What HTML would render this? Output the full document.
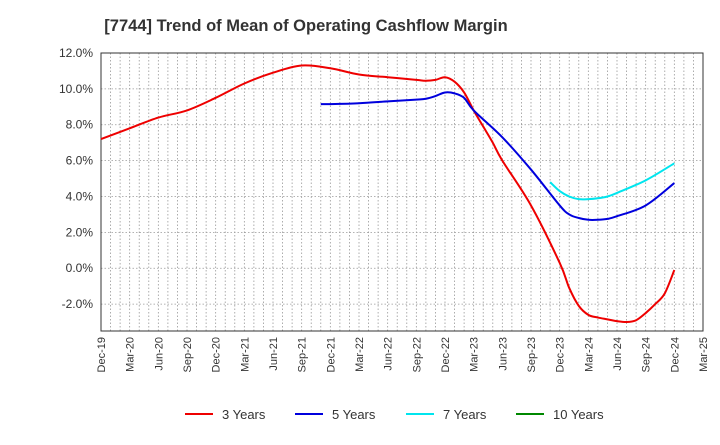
<!DOCTYPE html>
<html><head><meta charset="utf-8"><style>
body{margin:0;background:#fff;font-family:"Liberation Sans",sans-serif}
svg text{font-family:"Liberation Sans",sans-serif}
</style></head><body>
<svg id="c" width="720" height="440" xmlns="http://www.w3.org/2000/svg">
<text x="306" y="31" text-anchor="middle" font-size="16.5" font-weight="bold" fill="#333">[7744]  Trend of Mean of Operating Cashflow Margin</text>
<g id="grid"></g><g id="axes"></g><g id="series"></g><g id="legend"></g>
</svg>
<script>
const xLabels=["Dec-19","Mar-20","Jun-20","Sep-20","Dec-20","Mar-21","Jun-21","Sep-21","Dec-21","Mar-22","Jun-22","Sep-22","Dec-22","Mar-23","Jun-23","Sep-23","Dec-23","Mar-24","Jun-24","Sep-24","Dec-24","Mar-25"];
const yTicks=[-2,0,2,4,6,8,10,12];
const yTickLabels=["-2.0%","0.0%","2.0%","4.0%","6.0%","8.0%","10.0%","12.0%"];
const months3=[0,3,6,9,12,15,18,21,24,27,30,33,34,35,36,37,38,39,40,41,42,45,48,49,50,51,52,53,54,55,56,57,58,59,60];
const vals3=[7.2,7.8,8.4,8.8,9.5,10.3,10.9,11.3,11.15,10.8,10.65,10.5,10.45,10.5,10.65,10.4,9.8,8.8,7.9,7.0,6.0,3.5,0.3,-1.1,-2.1,-2.6,-2.75,-2.85,-2.95,-3.0,-2.9,-2.5,-2.0,-1.4,-0.1];
const months5=[23,24,27,30,33,34,35,36,37,38,39,42,45,48,49,50,51,52,53,54,57,60];
const vals5=[9.15,9.15,9.2,9.3,9.4,9.45,9.6,9.8,9.75,9.5,8.8,7.3,5.5,3.5,3.0,2.8,2.7,2.7,2.75,2.9,3.5,4.75];
const months7=[47,48,49,50,51,52,53,54,57,60];
const vals7=[4.8,4.3,4.0,3.85,3.85,3.9,4.0,4.2,4.9,5.85];
const months10=[];const vals10=[];
const L=101,R=703,T=53,B=331,NS="http://www.w3.org/2000/svg";
const x=m=>L+(R-L)*m/63;
const y=v=>T+(12-v)*(B-T)/15.5;
function el(t,a,p){const e=document.createElementNS(NS,t);for(const k in a)e.setAttribute(k,a[k]);document.getElementById(p).appendChild(e);return e;}
for(let m=0;m<=63;m++){const g=el('line',{x1:x(m),x2:x(m),y1:T,y2:B,stroke:'#999','stroke-dasharray':'1.5,2','stroke-width':0.8},'grid');

}
yTicks.forEach((v,i)=>{const g=el('line',{x1:L,x2:R,y1:y(v),y2:y(v),stroke:'#999','stroke-dasharray':'1.5,2','stroke-width':0.8},'grid');


const t=el('text',{x:L-8,y:y(v)+4,'text-anchor':'end','font-size':12,fill:'#333'},'axes');t.textContent=yTickLabels[i];

});
xLabels.forEach((s,i)=>{const px=x(i*3);const t=el('text',{x:0,y:0,'text-anchor':'end','font-size':11,fill:'#333',transform:`translate(${px+4},${B+6}) rotate(-90)`},'axes');t.textContent=s;

});
const fr=el('rect',{x:L,y:T,width:R-L,height:B-T,fill:'none',stroke:'#333','stroke-width':1},'axes');


function smooth(ms,vs){const p=ms.map((m,i)=>[x(m),y(vs[i])]);if(!p.length)return'';let d=`M${p[0][0]},${p[0][1]}`;
for(let i=0;i<p.length-1;i++){const p0=p[i-1]||p[i],p1=p[i],p2=p[i+1],p3=p[i+2]||p2;
d+=` C${p1[0]+(p2[0]-p0[0])/6},${p1[1]+(p2[1]-p0[1])/6} ${p2[0]-(p3[0]-p1[0])/6},${p2[1]-(p3[1]-p1[1])/6} ${p2[0]},${p2[1]}`;}return d;}
const series=[[months3,vals3,'#ee0000','3 Years','series-3-years'],[months5,vals5,'#0000dd','5 Years','series-5-years'],[months7,vals7,'#00e5ee','7 Years','series-7-years'],[months10,vals10,'#008800','10 Years','series-10-years']];
const lx=[185,295,406,516];
series.forEach((s,i)=>{if(s[0].length){const p=el('path',{d:smooth(s[0],s[1]),fill:'none',stroke:s[2],'stroke-width':2},'series');

}
const ln=el('line',{x1:lx[i],x2:lx[i]+28,y1:414,y2:414,stroke:s[2],'stroke-width':2},'legend');


const t=el('text',{x:lx[i]+37,y:419,'font-size':13,fill:'#333'},'legend');t.textContent=s[3];

});
</script>
</body></html>
